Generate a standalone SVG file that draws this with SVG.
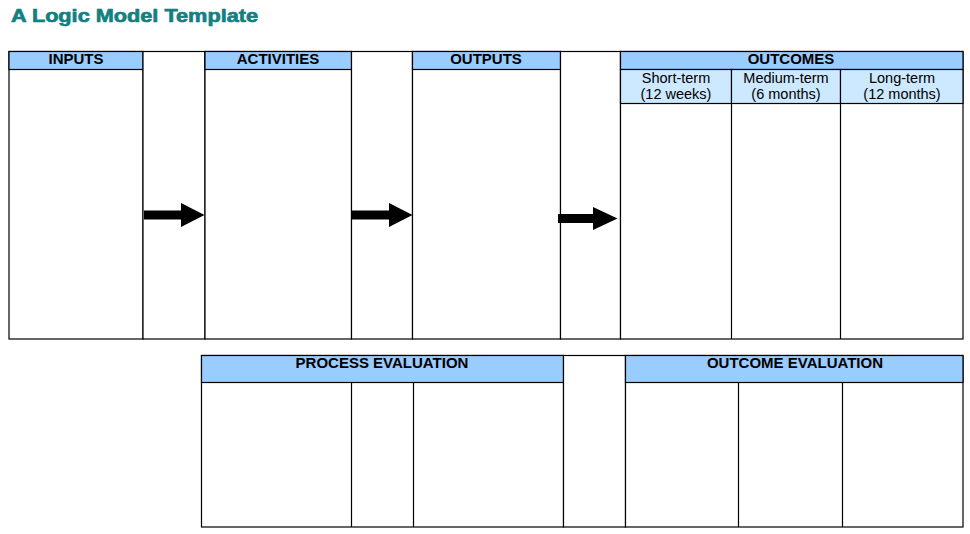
<svg xmlns="http://www.w3.org/2000/svg" width="970" height="534" viewBox="0 0 970 534">
<style>
.bg{fill:#ffffff}
.cell{fill:#ffffff;stroke:#000;stroke-width:1.2}
.hdr{fill:#99ccff;stroke:#000;stroke-width:1.2}
.sub{fill:#cce9ff;stroke:#000;stroke-width:1.2}
.ln{stroke:#000;stroke-width:1.2;fill:none}
.ht{font-family:"Liberation Sans",Arial,sans-serif;font-weight:bold;font-size:15px;fill:#000;text-anchor:middle}
.st{font-family:"Liberation Sans",Arial,sans-serif;font-size:14.5px;fill:#000;text-anchor:middle}
.title{font-family:"Liberation Sans",Arial,sans-serif;font-weight:bold;font-size:19px;fill:#128080;stroke:#128080;stroke-width:0.7}
.arr{fill:#000}
</style>
<rect class="bg" x="0" y="0" width="970" height="534"/>
<text class="title" x="11" y="21.5" textLength="247" lengthAdjust="spacingAndGlyphs">A Logic Model Template</text>

<g id="inputs">
<rect class="cell" x="9" y="51.5" width="134" height="287.5"/>
<rect class="hdr" x="9" y="51.5" width="134" height="18"/>
<text class="ht" x="76" y="64">INPUTS</text>
</g>
<g id="gap1">
<rect class="cell" x="143" y="51.5" width="62" height="287.5"/>
</g>
<g id="activities">
<rect class="cell" x="205" y="51.5" width="146.5" height="287.5"/>
<rect class="hdr" x="205" y="51.5" width="146.5" height="18"/>
<text class="ht" x="278" y="64">ACTIVITIES</text>
</g>
<g id="gap2">
<rect class="cell" x="351.5" y="51.5" width="61" height="287.5"/>
</g>
<g id="outputs">
<rect class="cell" x="412.5" y="51.5" width="148" height="287.5"/>
<rect class="hdr" x="412.5" y="51.5" width="148" height="18"/>
<text class="ht" x="486" y="64">OUTPUTS</text>
</g>
<g id="gap3">
<rect class="cell" x="560.5" y="51.5" width="60" height="287.5"/>
</g>
<g id="outcomes">
<rect class="cell" x="620.5" y="51.5" width="342.5" height="287.5"/>
<rect class="hdr" x="620.5" y="51.5" width="342.5" height="18"/>
<text class="ht" x="791" y="64">OUTCOMES</text>
<g id="short-term">
<rect class="sub" x="620.5" y="69.5" width="111" height="34"/>
<line class="ln" x1="731.5" y1="103.5" x2="731.5" y2="339"/>
<text class="st" x="676" y="83">Short-term</text>
<text class="st" x="676" y="99">(12 weeks)</text>
</g>
<g id="medium-term">
<rect class="sub" x="731.5" y="69.5" width="109" height="34"/>
<line class="ln" x1="840.5" y1="103.5" x2="840.5" y2="339"/>
<text class="st" x="786" y="83">Medium-term</text>
<text class="st" x="786" y="99">(6 months)</text>
</g>
<g id="long-term">
<rect class="sub" x="840.5" y="69.5" width="122.5" height="34"/>
<text class="st" x="902" y="83">Long-term</text>
<text class="st" x="902" y="99">(12 months)</text>
</g>
</g>

<g id="process-evaluation">
<rect class="cell" x="201.5" y="355.5" width="362" height="171.5"/>
<rect class="hdr" x="201.5" y="355.5" width="362" height="27"/>
<line class="ln" x1="351.5" y1="382.5" x2="351.5" y2="527"/>
<line class="ln" x1="413.5" y1="382.5" x2="413.5" y2="527"/>
<text class="ht" x="382" y="367.5">PROCESS EVALUATION</text>
</g>
<g id="gap4">
<rect class="cell" x="563.5" y="355.5" width="62" height="171.5"/>
</g>
<g id="outcome-evaluation">
<rect class="cell" x="625.5" y="355.5" width="337.5" height="171.5"/>
<rect class="hdr" x="625.5" y="355.5" width="337.5" height="27"/>
<line class="ln" x1="738.5" y1="382.5" x2="738.5" y2="527"/>
<line class="ln" x1="842.5" y1="382.5" x2="842.5" y2="527"/>
<text class="ht" x="795" y="367.5">OUTCOME EVALUATION</text>
</g>

<g id="connectors">
<polygon class="arr" points="144,210.5 181,210.5 181,203 204.5,215 181,227 181,219.5 144,219.5"/>
<polygon class="arr" points="352,210.5 389,210.5 389,203 412.5,215 389,227 389,219.5 352,219.5"/>
<polygon class="arr" points="558,214 593,214 593,207 617.5,218.5 593,230 593,223 558,223"/>
</g>
</svg>
